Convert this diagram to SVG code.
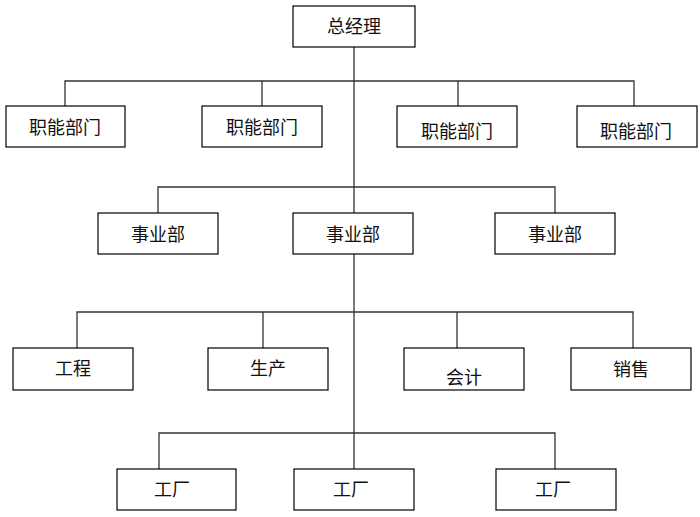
<svg xmlns="http://www.w3.org/2000/svg" width="700" height="517" viewBox="0 0 700 517">
<style>
.box{fill:#fff;stroke:#000;stroke-width:1.2}
.t{font-family:"Noto Sans CJK SC","Noto Sans",sans-serif;font-size:18px;fill:#111;text-anchor:middle;dominant-baseline:central}
.c{fill:none;stroke:#333;stroke-width:1.3}
</style>
<rect width="700" height="517" fill="#fff"/>
<g id="connectors">
<path class="c" d="M354 47V433"/>
<path class="c" d="M65 106V81H634V106M262 81V106M458 81V106"/>
<path class="c" d="M158 213V187H555V213"/>
<path class="c" d="M77 348V312H633V348M263 312V348M457 312V348"/>
<path class="c" d="M159 469V433H555V469M354 433V469"/>
</g>
<g id="n0"><rect class="box" x="293" y="6" width="122" height="41"/><text class="t" x="354" y="25">总经理</text></g>
<g id="n1"><rect class="box" x="6" y="106" width="119" height="41"/><text class="t" x="65" y="126">职能部门</text></g>
<g id="n2"><rect class="box" x="202" y="106" width="120" height="41"/><text class="t" x="262" y="126">职能部门</text></g>
<g id="n3"><rect class="box" x="397" y="106" width="120" height="41"/><text class="t" x="457" y="130">职能部门</text></g>
<g id="n4"><rect class="box" x="577" y="106" width="120" height="41"/><text class="t" x="636" y="130">职能部门</text></g>
<g id="n5"><rect class="box" x="98" y="213" width="120" height="41"/><text class="t" x="158" y="233">事业部</text></g>
<g id="n6"><rect class="box" x="293" y="213" width="120" height="41"/><text class="t" x="353" y="233">事业部</text></g>
<g id="n7"><rect class="box" x="495" y="213" width="120" height="41"/><text class="t" x="555" y="233">事业部</text></g>
<g id="n8"><rect class="box" x="13" y="348" width="120" height="42"/><text class="t" x="73" y="367">工程</text></g>
<g id="n9"><rect class="box" x="208" y="348" width="120" height="42"/><text class="t" x="268" y="367">生产</text></g>
<g id="n10"><rect class="box" x="404" y="348" width="120" height="42"/><text class="t" x="464" y="376">会计</text></g>
<g id="n11"><rect class="box" x="571" y="348" width="120" height="42"/><text class="t" x="631" y="368">销售</text></g>
<g id="n12"><rect class="box" x="117" y="469" width="119" height="41"/><text class="t" x="172" y="488">工厂</text></g>
<g id="n13"><rect class="box" x="294" y="469" width="120" height="41"/><text class="t" x="351" y="488">工厂</text></g>
<g id="n14"><rect class="box" x="496" y="469" width="120" height="41"/><text class="t" x="553" y="488">工厂</text></g>
</svg>
